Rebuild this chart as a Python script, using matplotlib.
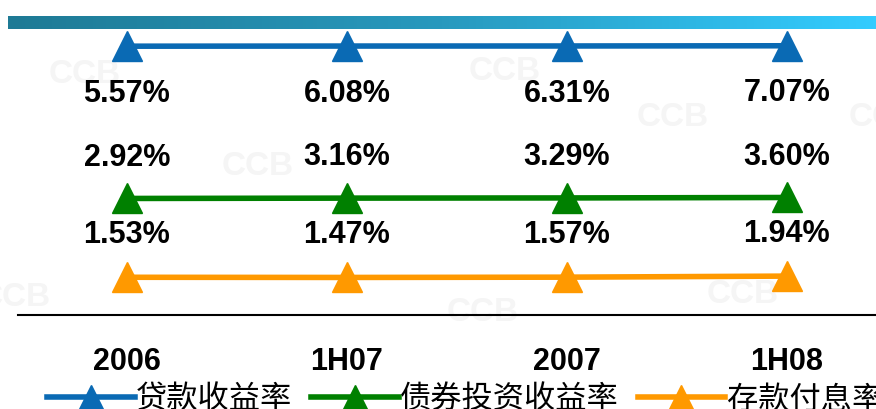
import numpy as np
import matplotlib
matplotlib.use("Agg")
import matplotlib.pyplot as plt
from matplotlib.colors import LinearSegmentedColormap

categories = ["2006", "1H07", "2007", "1H08"]
loan_yield = [5.57, 6.08, 6.31, 7.07]
bond_yield = [2.92, 3.16, 3.29, 3.60]
deposit_cost = [1.53, 1.47, 1.57, 1.94]
series_names = ["贷款收益率", "债券投资收益率", "存款付息率"]

W, H = 876, 410
fig = plt.figure(figsize=(W / 100, H / 100), dpi=100)

def fx(px):
    return px / W

def fy(py):
    return 1 - py / H

# gradient bar at top
gax = fig.add_axes([fx(8), fy(30), fx(868), (30 - 17) / H])
cmap = LinearSegmentedColormap.from_list("g", ["#1E7A95", "#2899BE", "#33CCFF"])
gax.imshow(np.linspace(0, 1, 256)[None, :], aspect="auto", cmap=cmap)
gax.axis("off")

# watermarks
for (x, y) in [(85, 75), (258, 167), (505, 72), (673, 118), (15, 298),
               (483, 313), (743, 295), (885, 118)]:
    fig.text(fx(x), fy(y), "CCB", color="#F5F5F5", fontsize=24, fontweight="bold",
             family="Liberation Sans", ha="center", va="center", zorder=-5)

ax_bottom, ax_top = 316, 30
ax = fig.add_axes([fx(18), fy(ax_bottom), fx(858), (ax_bottom - ax_top) / H])
ax.patch.set_alpha(0)
x = np.arange(len(categories))
ax.set_xlim(-0.495, 3.405)
ax.set_ylim(0, 1)
for s in ["top", "left", "right"]:
    ax.spines[s].set_visible(False)
ax.spines["bottom"].set_linewidth(1.5)
ax.set_yticks([])
ax.set_xticks(x)
ax.set_xticklabels(categories, fontsize=22, fontweight="bold", family="Liberation Sans")
ax.tick_params(axis="x", length=0, pad=22)

def series_axis(values, target_px, span):
    a = ax.twinx()
    a.axis("off")
    ref = np.mean(values)
    lo = ref - (ax_bottom - target_px) / (ax_bottom - ax_top) * span
    a.set_ylim(lo, lo + span)
    return a

specs = [
    (loan_yield, "#0A6AB4", 47, 1000, -33.5),
    (bond_yield, "#008000", 199, 200, 30),
    (deposit_cost, "#FF9900", 278, 100, 31),
]
handles = []
for (vals, col, tp, span, off), name in zip(specs, series_names):
    a = series_axis(vals, tp, span)
    ln, = a.plot(x, vals, color=col, lw=4, marker="^", ms=21, mec=col, mfc=col,
                 clip_on=False, label=name)
    handles.append(ln)
    for xi, v in zip(x, vals):
        a.annotate(f"{v:.2f}%", (xi, v), xytext=(0, off), textcoords="offset points",
                   ha="center", va="center", fontsize=22, fontweight="bold",
                   family="Liberation Sans", color="black")

leg = fig.legend(handles=handles, loc="center left", bbox_to_anchor=(fx(47), fy(400)),
                 ncol=3, frameon=False, handlelength=2.8, handletextpad=0.05,
                 columnspacing=0.6, borderpad=0, borderaxespad=0, markerscale=0.8,
                 prop={"family": ["Noto Sans CJK SC", "DejaVu Sans"], "size": 22.5})

fig.savefig("out.png", dpi=100)
